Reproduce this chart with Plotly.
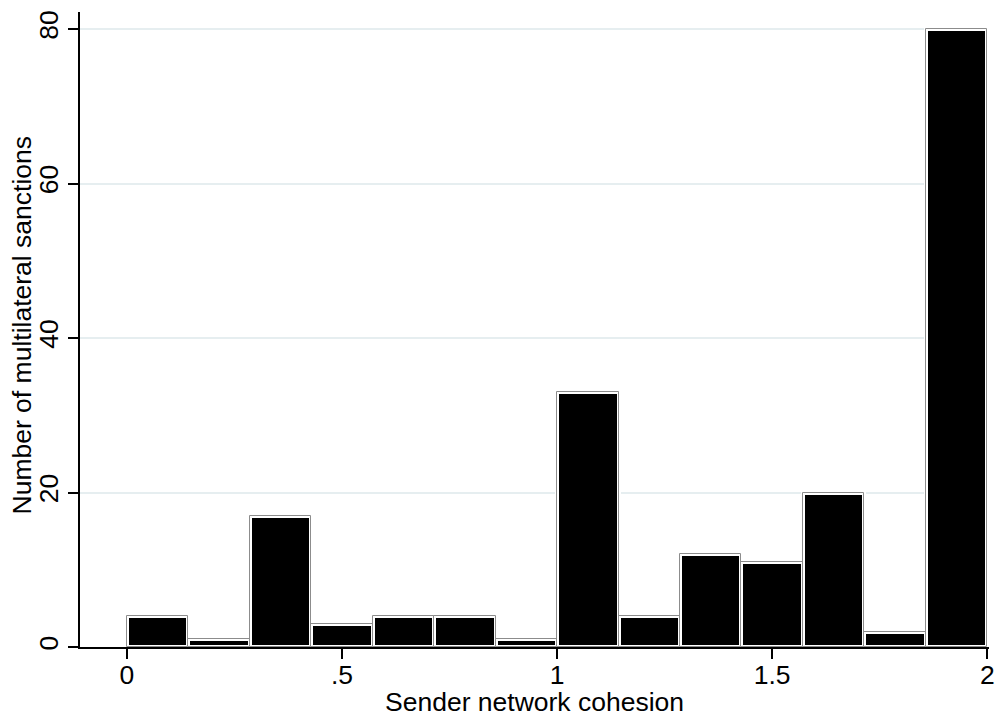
import plotly.graph_objects as go

# Histogram of sender network cohesion: 14 equal-width bins on [0, 2]
bin_start = 0.0
bin_end = 2.0
n_bins = 14
counts = [4, 1, 17, 3, 4, 4, 1, 33, 4, 12, 11, 20, 2, 80]

x_tick_vals = [0, 0.5, 1, 1.5, 2]
x_tick_text = ["0", ".5", "1", "1.5", "2"]
y_tick_vals = [0, 20, 40, 60, 80]

bin_width = (bin_end - bin_start) / n_bins
centers = [bin_start + bin_width * (i + 0.5) for i in range(n_bins)]

FONT = "Liberation Sans, Arial, sans-serif"
FS = 26.5

fig = go.Figure()
# black body with a white inner rim
fig.add_trace(go.Bar(
    x=centers, y=counts, width=bin_width,
    marker=dict(color="black", line=dict(color="white", width=4)),
    hoverinfo="x+y", showlegend=False,
))
# thin gray outline drawn on top
fig.add_trace(go.Bar(
    x=centers, y=counts, width=bin_width,
    marker=dict(color="rgba(0,0,0,0)", line=dict(color="#8c8c8c", width=1)),
    hoverinfo="skip", showlegend=False,
))

fig.update_layout(
    width=997, height=717,
    barmode="overlay", bargap=0,
    paper_bgcolor="white", plot_bgcolor="white",
    margin=dict(l=80, r=8, t=12, b=70, autoexpand=False),
    font=dict(family=FONT, size=FS, color="black"),
    xaxis=dict(
        range=[-0.109, 2.004],
        tickvals=x_tick_vals, ticktext=x_tick_text,
        ticks="outside", ticklen=10, tickwidth=1.5, tickcolor="black",
        ticklabelstandoff=-7,
        showline=True, linecolor="black", linewidth=1.5,
        showgrid=False, zeroline=False, automargin=False,
        tickfont=dict(size=FS),
    ),
    yaxis=dict(
        range=[0, 82.2],
        tickvals=y_tick_vals,
        ticks="outside", ticklen=10, tickwidth=1.5, tickcolor="black",
        tickangle=-90,
        showline=True, linecolor="black", linewidth=1.5,
        showgrid=True, gridcolor="#e6eef0", gridwidth=1.5,
        zeroline=False, automargin=False,
        tickfont=dict(size=FS),
    ),
    annotations=[
        dict(
            text="Number of multilateral sanctions",
            xref="paper", yref="paper", x=0, y=0.5,
            xanchor="center", yanchor="middle", xshift=-59, yshift=4,
            textangle=-90, showarrow=False, font=dict(size=FS),
        ),
        dict(
            text="Sender network cohesion",
            xref="paper", yref="paper", x=0.5, y=0,
            xanchor="center", yanchor="middle", yshift=-55, xshift=0,
            showarrow=False, font=dict(size=FS),
        ),
    ],
)

fig.write_html("out.html")
